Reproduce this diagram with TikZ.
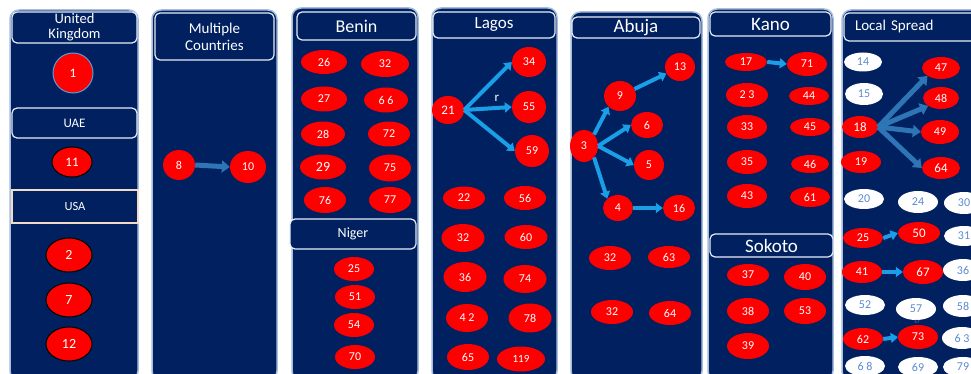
\documentclass[tikz,border=0pt]{standalone}
\usepackage{fontspec}
\setmainfont{Carlito}
\usetikzlibrary{shapes.geometric,arrows.meta}
\definecolor{navy}{HTML}{002060}
\definecolor{panelborder}{HTML}{A6BDDD}
\definecolor{hdrborder}{HTML}{E6EDF7}
\definecolor{usaborder}{HTML}{F2DCC8}
\definecolor{arrowlight}{HTML}{1A9EE6}
\definecolor{arrowdark}{HTML}{2E75B6}
\definecolor{wtext}{HTML}{5B8BD0}
\definecolor{ukborder}{HTML}{5B9BD5}
\tikzset{
  panel/.style={draw=panelborder, line width=1.5pt, fill=navy, rounded corners=9pt},
  hdr/.style={draw=hdrborder, line width=1.2pt, fill=navy, rounded corners=5pt, text=white, align=center, inner sep=0pt},
  sz/.style 2 args={minimum width=#1pt, minimum height=#2pt},
  rn/.style={ellipse, fill=red, text=white, inner sep=0pt, font=\fontsize{12}{12}\selectfont},
  wn/.style={ellipse, fill=white, text=wtext, inner sep=0pt, font=\fontsize{12}{12}\selectfont},
  arrL/.style={draw=arrowlight, line width=4pt, -{Triangle[length=7pt,width=10pt]}},
  arrD/.style={draw=arrowdark, line width=5pt, -{Triangle[length=8pt,width=12pt]}}
}
\begin{document}
\begin{tikzpicture}[x=1pt,y=-1pt]
\useasboundingbox (0,0) rectangle (971,374);

% panels
\draw[panel] (10,10) rectangle (138,380);
\draw[panel] (152,10) rectangle (277,380);
\draw[panel] (292,8) rectangle (418,380);
\draw[panel] (432,8) rectangle (557,380);
\draw[panel] (571,12) rectangle (702,380);
\draw[panel] (708,9) rectangle (833,380);
\draw[panel] (842,10) rectangle (1000,380);

% headers
\node[hdr, sz={125}{31}, font=\fontsize{14.5}{15}\selectfont] (hUK) at (74.5,27.5) {United\\Kingdom};
\node[hdr, sz={125}{30}, font=\fontsize{13}{13}\selectfont] (hUAE) at (74.5,123) {UAE};
\node[hdr, sz={126}{33}, rounded corners=0pt, draw=usaborder, font=\fontsize{12.5}{12.5}\selectfont] (hUSA) at (75,206.5) {USA};
\node[hdr, sz={119}{47}, font=\fontsize{15}{17}\selectfont] (hMC) at (214.5,36.5) {Multiple\\Countries};
\node[hdr, sz={119}{28}, font=\fontsize{18}{18}\selectfont] (hBenin) at (356.5,26) {Benin};
\node[hdr, sz={126}{30}, font=\fontsize{14}{14}\selectfont] (hNiger) at (353,234) {Niger};
\node[hdr, sz={122}{26}, font=\fontsize{17}{17}\selectfont] (hLagos) at (494,25) {Lagos};
\node[hdr, sz={128}{21}, font=\fontsize{19}{19}\selectfont] (hAbuja) at (636,27.5) {Abuja};
\node[hdr, sz={121}{24}, font=\fontsize{19}{19}\selectfont] (hKano) at (770.5,24) {Kano};
\node[hdr, sz={123}{23}, font=\fontsize{19}{19}\selectfont] (hSokoto) at (771.5,245.5) {Sokoto};
\node[hdr, sz={140}{28}, font=\fontsize{15}{15}\selectfont, text width=130pt, align=left] (hLocal) at (914,27) {\hspace*{6pt}Local Spread};

% United Kingdom / UAE / USA
\node[rn, sz={40}{40}, draw=ukborder, line width=1pt, font=\fontsize{13}{13}\selectfont] (uk1) at (73,73) {1};
\node[rn, sz={40}{30}, draw=black, line width=1pt, font=\fontsize{13}{13}\selectfont] (uae11) at (72,162) {11};
\node[rn, sz={46}{34}, draw=black, line width=1pt, font=\fontsize{14}{14}\selectfont] (us2) at (69,255) {2};
\node[rn, sz={46}{34}, draw=black, line width=1pt, font=\fontsize{14}{14}\selectfont] (us7) at (69,300) {7};
\node[rn, sz={46}{34}, draw=black, line width=1pt, font=\fontsize{14}{14}\selectfont] (us12) at (69,344) {12};

% Multiple Countries
\node[rn, sz={32}{30}] (mc8) at (179,165) {8};
\node[rn, sz={36}{32}] (mc10) at (248,167) {10};
\draw[arrD, line width=5pt] (mc8.east) -- (mc10.west);

% Benin
\node[rn, sz={46}{24}] (b26) at (324,62) {26};
\node[rn, sz={48}{26}] (b32) at (385,64) {32};
\node[rn, sz={46}{25}] (b27) at (324,99) {27};
\node[rn, sz={44}{25}] (b66) at (386,100) {6 6};
\node[rn, sz={44}{25}] (b28) at (323,134) {28};
\node[rn, sz={42}{25}] (b72) at (389,134) {72};
\node[rn, sz={46}{25}, font=\fontsize{14}{14}\selectfont] (b29) at (323,167) {29};
\node[rn, sz={42}{27}] (b75) at (390,168) {75};
\node[rn, sz={42}{26}] (b76) at (325,200) {76};
\node[rn, sz={42}{26}] (b77) at (390,200) {77};

% Niger
\node[rn, sz={40}{24}] (n25) at (354,269) {25};
\node[rn, sz={40}{24}] (n51) at (355,297) {51};
\node[rn, sz={40}{24}] (n54) at (354,325) {54};
\node[rn, sz={40}{24}] (n70) at (355,357) {70};

% Lagos
\node[rn, sz={32}{28}, font=\fontsize{13}{13}\selectfont] (l21) at (448,110) {21};
\node[rn, sz={34}{30}] (l34) at (529,62) {34};
\node[rn, sz={34}{32}] (l55) at (529,107) {55};
\node[rn, sz={34}{32}] (l59) at (532,151) {59};
\draw[arrL] (l21.east) -- (l34.west);
\draw[arrL] (l21.east) -- (l55.west);
\draw[arrL] (l21.east) -- (l59.west);
\node[text=white, font=\fontsize{13}{13}\selectfont, inner sep=0pt] (lr) at (497,98) {r};
\node[rn, sz={42}{23}] (l22) at (464,198) {22};
\node[rn, sz={42}{24}] (l56) at (525,198) {56};
\node[rn, sz={43}{28}] (l32) at (463,238) {32};
\node[rn, sz={43}{24}] (l60) at (526,237) {60};
\node[rn, sz={43}{30}] (l36) at (465,277) {36};
\node[rn, sz={43}{28}] (l74) at (525,279) {74};
\node[rn, sz={42}{28}] (l42) at (467,318) {4 2};
\node[rn, sz={43}{29}] (l78) at (530,318) {78};
\node[rn, sz={42}{26}] (l65) at (468,357) {65};
\node[rn, sz={48}{25}, font=\fontsize{11}{11}\selectfont] (l119) at (521,359) {119};

% Abuja
\node[rn, sz={28}{32}] (a3) at (584,146) {3};
\node[rn, sz={32}{30}] (a9) at (620,96) {9};
\node[rn, sz={30}{28}] (a13) at (680,67) {13};
\node[rn, sz={32}{26}] (a6) at (647,125) {6};
\node[rn, sz={30}{30}] (a5) at (649,165) {5};
\node[rn, sz={30}{26}] (a4) at (618,208) {4};
\node[rn, sz={32}{26}] (a16) at (679,208) {16};
\draw[arrL] (a3.north east) -- (a9.south west);
\draw[arrL] (a3.east) -- (a6.west);
\draw[arrL] (a3.east) -- (a5.west);
\draw[arrL] (a3.south east) -- (a4.north west);
\draw[arrL] (a9) -- (a13);
\draw[arrL] (a4.east) -- (a16.west);
\node[rn, sz={42}{24}] (a32a) at (610,258) {32};
\node[rn, sz={42}{22}] (a63) at (669,257) {63};
\node[rn, sz={42}{24}] (a32b) at (612,312) {32};
\node[rn, sz={42}{24}] (a64) at (670,313) {64};

% Kano
\node[rn, sz={42}{18}] (k17) at (746,62) {17};
\node[rn, sz={40}{24}] (k71) at (807,64) {71};
\draw[arrL] (k17.east) -- (k71.west);
\node[rn, sz={42}{24}] (k23) at (747,95) {2 3};
\node[rn, sz={40}{18}] (k44) at (809,96) {44};
\node[rn, sz={40}{24}] (k33) at (747,127) {33};
\node[rn, sz={40}{18}] (k45) at (810,127) {45};
\node[rn, sz={40}{24}] (k35) at (747,162) {35};
\node[rn, sz={38}{18}] (k46) at (810,164) {46};
\node[rn, sz={40}{24}] (k43) at (747,196) {43};
\node[rn, sz={40}{20}] (k61) at (810,197) {61};

% Sokoto
\node[rn, sz={42}{22}] (s37) at (748,275) {37};
\node[rn, sz={42}{26}] (s40) at (805,277) {40};
\node[rn, sz={42}{26}] (s38) at (748,311) {38};
\node[rn, sz={42}{26}] (s53) at (805,311) {53};
\node[rn, sz={42}{26}] (s39) at (748,346) {39};

% Local Spread
\node[wn, sz={38}{19}] (ls14) at (863,62) {14};
\node[wn, sz={38}{22}] (ls15) at (864,94) {15};
\node[rn, sz={36}{22}, font=\fontsize{13}{13}\selectfont] (ls18) at (860,127) {18};
\node[rn, sz={40}{22}] (ls19) at (861,162) {19};
\node[rn, sz={38}{22}] (ls47) at (941,68) {47};
\node[rn, sz={36}{22}] (ls48) at (941,98) {48};
\node[rn, sz={38}{24}] (ls49) at (940,132) {49};
\node[rn, sz={38}{22}, font=\fontsize{13}{13}\selectfont] (ls64) at (941,168) {64};
\draw[arrD] (ls18.east) -- (ls47.south west);
\draw[arrD] (ls18.east) -- (ls48.south west);
\draw[arrD] (ls18.east) -- (ls49.west);
\draw[arrD] (ls18.east) -- (ls64.west);
\node[wn, sz={40}{20}] (ls20) at (864,199) {20};
\node[wn, sz={40}{22}] (ls24) at (918,202) {24};
\node[wn, sz={40}{22}] (ls30) at (964,203) {30};
\node[rn, sz={40}{20}] (ls25) at (863,238) {25};
\node[rn, sz={42}{22}, font=\fontsize{13}{13}\selectfont] (ls50) at (919,233) {50};
\node[wn, sz={40}{20}] (ls31) at (964,236) {31};
\node[rn, sz={40}{22}] (ls41) at (862,272) {41};
\node[rn, sz={40}{24}, font=\fontsize{13}{13}\selectfont] (ls67) at (923,272) {67};
\node[wn, sz={40}{22}] (ls36) at (963,270) {36};
\node[wn, sz={40}{20}] (ls52) at (865,305) {52};
\node[wn, sz={40}{22}] (ls57) at (916,309) {57};
\node[wn, sz={40}{22}] (ls58) at (963,306) {58};
\node[text=wtext, font=\fontsize{5}{5}\selectfont, inner sep=0pt] (ls57s) at (917,322) {57};
\node[rn, sz={40}{22}] (ls62) at (863,339) {62};
\node[rn, sz={40}{24}] (ls73) at (918,337) {73};
\node[wn, sz={40}{22}] (ls63) at (962,338) {6 3};
\node[wn, sz={40}{20}] (ls68) at (865,366) {6 8};
\node[wn, sz={40}{20}] (ls69) at (918,367) {69};
\node[wn, sz={40}{20}] (ls79) at (963,367) {79};
\draw[arrL] (ls25.east) -- (ls50.west);
\draw[arrL] (ls41.east) -- (ls67.west);
\draw[arrL] (ls62.east) -- (ls73.west);
\end{tikzpicture}
\end{document}
